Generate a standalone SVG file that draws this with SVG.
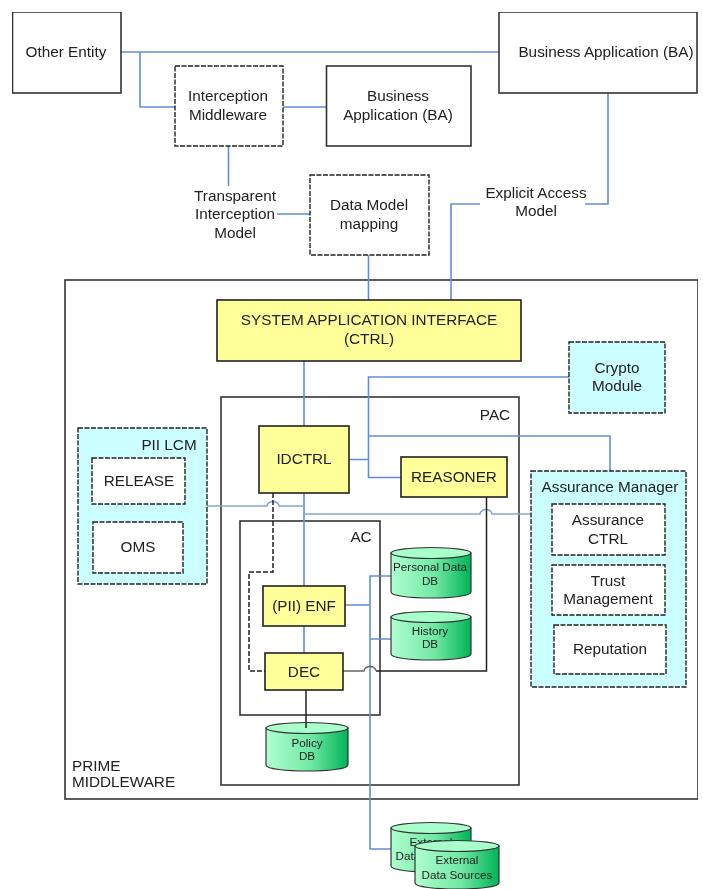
<svg xmlns="http://www.w3.org/2000/svg" width="703" height="889" viewBox="0 0 703 889">
<style>
text{font-family:"Liberation Sans",Arial,sans-serif;font-size:15.300px;fill:#222;text-anchor:middle}
.s{font-size:11.700px}
.b{fill:#fff;stroke:#333;stroke-width:1.6}
.d{fill:#fff;stroke:#222;stroke-width:1.4;stroke-dasharray:5 1.5}
.y{fill:#ffff99;stroke:#222;stroke-width:1.6}
.c{fill:#ccffff;stroke:#222;stroke-width:1.4;stroke-dasharray:5 1.5}
.n{fill:none;stroke:#333;stroke-width:1.6}
.l{fill:none;stroke:#5f8fd6;stroke-width:1.6}
.l2{fill:none;stroke:#86a5de;stroke-width:1.6}
.k{fill:none;stroke:#222;stroke-width:1.5}
.g{fill:none;stroke:#666;stroke-width:1.4}
.kd{fill:none;stroke:#222;stroke-width:1.5;stroke-dasharray:5 2}
.cy{fill:url(#g);stroke:#333;stroke-width:1.2}
.ct{fill:#a8ffcc;stroke:#333;stroke-width:1.2}
</style>
<defs>
<linearGradient id="g" x1="0" x2="1" y1="0" y2="0"><stop offset="0" stop-color="#b0ffd0"/><stop offset=".55" stop-color="#70e8a4"/><stop offset="1" stop-color="#00b358"/></linearGradient>
<filter id="soft" x="0" y="0" width="1" height="1"><feGaussianBlur stdDeviation="0.35"/></filter>
</defs>
<rect width="703" height="889" fill="#fff"/>
<g filter="url(#soft)">
<g id="prime"><rect class="n" x="65" y="280" width="633" height="519"/><text x="72" y="771" style="text-anchor:start">PRIME</text><text x="72" y="787" style="text-anchor:start">MIDDLEWARE</text></g>
<g id="pac"><rect class="n" x="221" y="397" width="298" height="388"/><text x="495" y="420">PAC</text></g>
<g id="ac"><rect class="n" x="240" y="521" width="140" height="194"/><text x="361" y="542">AC</text></g>
<g id="connectors">
<path class="l" d="M121 52H499M140 52V107H175M283 107H326M228.500 146V186M277 214H310M368.500 255V300"/>
<path class="l" d="M451 300V204H480M585 204H608V93"/>
<path class="l" d="M304 361V426M569 377H368.500V477.500H401M349 459.500H368.500M368.500 436H610V471"/>
<path class="l" d="M304 493V586M304 626V653"/>
<path class="l2" d="M207 506H267a6 4.500 0 0 1 12 0H304M304 514H480a6 4.500 0 0 1 12 0H531"/>
<path class="l" d="M345 605H370M391 576H370V849H391M370 639H391"/>
<path class="k" d="M486.500 497V671H376"/>
<path class="g" d="M376 671a6 4.500 0 0 0 -12 0H343"/>
<path class="k" d="M306 690V728"/>
<path class="kd" d="M273 493V572H249V671H265"/>
</g>
<g id="other-entity"><rect class="b" x="12.500" y="12" width="108.500" height="81"/><text x="66" y="57">Other Entity</text></g>
<g id="business-app-top"><rect class="b" x="499" y="12" width="198" height="81"/><text x="606" y="57">Business Application (BA)</text></g>
<g id="interception"><rect class="d" x="175" y="66" width="108" height="80"/><text x="228" y="101">Interception</text><text x="228" y="120">Middleware</text></g>
<g id="business-app"><rect class="b" x="326.500" y="66" width="144.500" height="80"/><text x="398" y="101">Business</text><text x="398" y="120">Application (BA)</text></g>
<g id="transparent"><text x="235" y="201">Transparent</text><text x="235" y="219">Interception</text><text x="235" y="238">Model</text></g>
<g id="data-model"><rect class="d" x="310" y="175" width="119" height="80"/><text x="369" y="210">Data Model</text><text x="369" y="229">mapping</text></g>
<g id="explicit"><text x="536" y="198">Explicit Access</text><text x="536" y="216">Model</text></g>
<g id="sai"><rect class="y" x="217" y="300" width="304" height="61"/><text x="369" y="325">SYSTEM APPLICATION INTERFACE</text><text x="369" y="344">(CTRL)</text></g>
<g id="crypto"><rect class="c" x="569" y="342" width="96" height="71"/><text x="617" y="373">Crypto</text><text x="617" y="391">Module</text></g>
<g id="idctrl"><rect class="y" x="259" y="426" width="90" height="67"/><text x="304" y="464">IDCTRL</text></g>
<g id="reasoner"><rect class="y" x="401" y="457" width="106" height="40"/><text x="454" y="482">REASONER</text></g>
<g id="pii-lcm"><rect class="c" x="78" y="428" width="129" height="156"/><text x="169" y="450">PII LCM</text>
<rect class="d" x="92" y="458" width="93" height="46"/><text x="139" y="486">RELEASE</text>
<rect class="d" x="93" y="522" width="90" height="51"/><text x="138" y="552">OMS</text></g>
<g id="assurance"><rect class="c" x="531" y="471" width="155" height="216"/><text x="610" y="492">Assurance Manager</text>
<rect class="d" x="552" y="504" width="113" height="51"/><text x="608" y="525">Assurance</text><text x="608" y="544">CTRL</text>
<rect class="d" x="552" y="565" width="113" height="50"/><text x="608" y="586">Trust</text><text x="608" y="604">Management</text>
<rect class="d" x="554" y="625" width="112" height="49"/><text x="610" y="654">Reputation</text></g>
<g id="enf"><rect class="y" x="263" y="586" width="82" height="40"/><text x="304" y="611">(PII) ENF</text></g>
<g id="dec"><rect class="y" x="265" y="653" width="78" height="37"/><text x="304" y="677">DEC</text></g>
<g id="personal-db"><path class="cy" d="M391 553V592C391 600 471 600 471 592V553Z"/><ellipse class="ct" cx="431" cy="553" rx="40" ry="5.500"/><text class="s" x="430" y="571">Personal Data</text><text class="s" x="430" y="585">DB</text></g>
<g id="history-db"><path class="cy" d="M391 617V654C391 662 471 662 471 654V617Z"/><ellipse class="ct" cx="431" cy="617" rx="40" ry="5.500"/><text class="s" x="430" y="635">History</text><text class="s" x="430" y="648">DB</text></g>
<g id="policy-db"><path class="cy" d="M266 728V765C266 773 348 773 348 765V728Z"/><ellipse class="ct" cx="307" cy="728" rx="41" ry="5.500"/><path class="k" d="M306 722V728"/><text class="s" x="307" y="747">Policy</text><text class="s" x="307" y="760">DB</text></g>
<g id="external-back"><path class="cy" d="M391 828V866C391 874 471 874 471 866V828Z"/><ellipse class="ct" cx="431" cy="828" rx="40" ry="5.500"/><text class="s" x="431" y="846">External</text><text class="s" x="431" y="860">Data Sources</text></g>
<g id="external-front"><path class="cy" d="M415 846V883C415 891 499 891 499 883V846Z"/><ellipse class="ct" cx="457" cy="846" rx="42" ry="5.500"/><text class="s" x="457" y="864">External</text><text class="s" x="457" y="879">Data Sources</text></g>
</g>
</svg>
